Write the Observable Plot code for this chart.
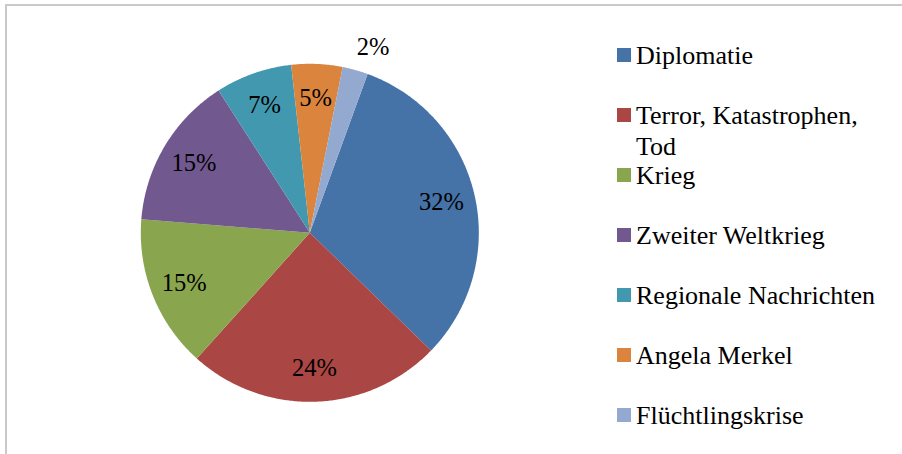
<!DOCTYPE html>
<html>
<head>
<meta charset="utf-8">
<script src="https://cdn.jsdelivr.net/npm/d3@7"></script>
<script src="https://cdn.jsdelivr.net/npm/@observablehq/plot@0.6"></script>
<style>
  html, body { margin: 0; padding: 0; background: #fff; }
  #wrap { position: relative; width: 902px; height: 454px; overflow: hidden; background: #fff; }
  #frame { position: absolute; left: 5px; top: 4px; width: 920px; height: 470px;
           border-top: 2px solid #c9c9c9; border-left: 2px solid #c9c9c9; box-sizing: border-box; }
  #plot { position: absolute; left: 0; top: 0; }
  #legend { position: absolute; left: 617px; top: 40px; font-family: "Times New Roman", "Liberation Serif", serif; font-size: 26px; color: #000; }
  .row { position: absolute; left: 0; white-space: nowrap; }
  .sw { position: absolute; left: 0; top: 8px; width: 14px; height: 14px; }
  .lb { position: absolute; left: 19px; top: 0; line-height: 31px; width: 250px; white-space: normal; }
</style>
</head>
<body>
<div id="wrap">
  <div id="frame"></div>
  <div id="plot"></div>
  <div id="legend"></div>
</div>
<script>
// ---- data ----
const categories = ["Diplomatie", "Terror, Katastrophen, Tod", "Krieg", "Zweiter Weltkrieg", "Regionale Nachrichten", "Angela Merkel", "Flüchtlingskrise"];
const counts = [13, 10, 6, 6, 3, 2, 1];
const colors = ["#4572A7", "#AA4643", "#89A54E", "#71588F", "#4198AF", "#DB843D", "#93A9CF"];
const firstSliceAngle = 20; // degrees, clockwise from 12 o'clock

// ---- geometry from data ----
const total = d3.sum(counts);
const rad = d => d * Math.PI / 180;
let acc = firstSliceAngle;
const slices = categories.map((name, i) => {
  const a0 = acc, a1 = acc + counts[i] / total * 360;
  acc = a1;
  return { name, color: colors[i], a0, a1, share: counts[i] / total };
});

function slicePoints(s) {
  const pts = [{ x: 0, y: 0 }];
  const n = Math.max(2, Math.ceil((s.a1 - s.a0) / 0.5));
  for (let k = 0; k <= n; k++) {
    const a = rad(s.a0 + (s.a1 - s.a0) * k / n);
    pts.push({ x: Math.sin(a), y: Math.cos(a) });
  }
  pts.push({ x: 0, y: 0 });
  return pts;
}

const allLabels = slices.map(s => {
  const mid = rad((s.a0 + s.a1) / 2);
  const outside = s.share < 0.03;
  const rr = outside ? 1.14 : 0.8;
  return { x: rr * Math.sin(mid), y: rr * Math.cos(mid), text: Math.round(s.share * 100) + "%", outside };
});
const insideLabels = allLabels.filter(d => !d.outside);
const outsideLabels = allLabels.filter(d => d.outside);

const cx = 309.3, cy = 232.3, r = 169;
const serif = "Times New Roman, Liberation Serif, serif";

const plot = Plot.plot({
  width: 902,
  height: 454,
  margin: 0,
  style: { background: "transparent", fontFamily: serif },
  x: { domain: [-1, 1], range: [cx - r, cx + r], axis: null },
  y: { domain: [-1, 1], range: [cy + r, cy - r], axis: null },
  marks: [
    ...slices.map(s => Plot.line(slicePoints(s), { x: "x", y: "y", fill: s.color, stroke: "none", curve: "linear" })),
    Plot.text(insideLabels, { x: "x", y: "y", text: "text", fontSize: 24.5, fontFamily: serif, fill: "#000" }),
    Plot.text(outsideLabels, { x: "x", y: "y", text: "text", fontSize: 24.5, fontFamily: serif, fill: "#000", textAnchor: "start", dx: -5 })
  ]
});
document.getElementById("plot").appendChild(plot);

// ---- legend ----
const legend = document.getElementById("legend");
categories.forEach((name, i) => {
  const row = document.createElement("div");
  row.className = "row";
  row.style.top = (i * 60) + "px";
  const sw = document.createElement("div");
  sw.className = "sw";
  sw.style.background = colors[i];
  const lb = document.createElement("div");
  lb.className = "lb";
  lb.textContent = name;
  row.appendChild(sw);
  row.appendChild(lb);
  legend.appendChild(row);
});
</script>
</body>
</html>
